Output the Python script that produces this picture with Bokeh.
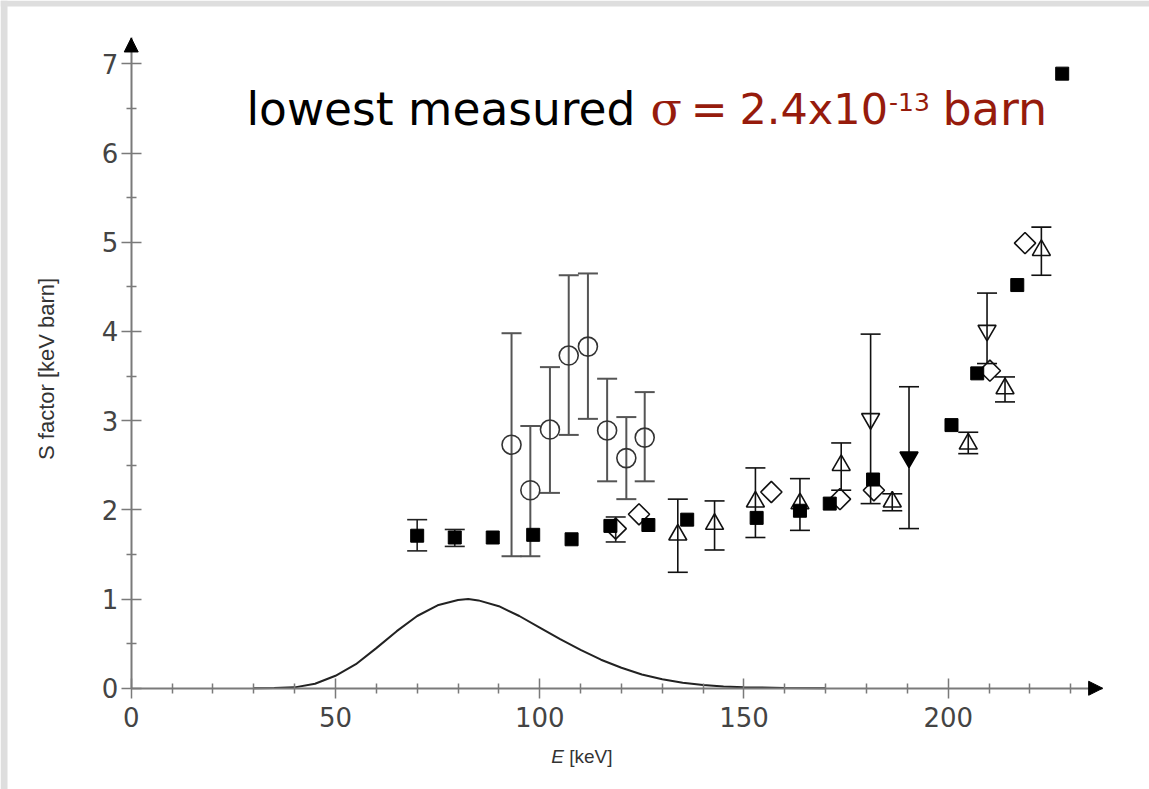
from bokeh.plotting import figure
from bokeh.models import (Range1d, FixedTicker, Whisker, TeeHead, ColumnDataSource,
                          Label, Arrow, NormalHead, BoxAnnotation)
from bokeh.embed import file_html
from bokeh.resources import INLINE

# ---- data ----
sq_e = [70.0, 79.2, 88.5, 98.4, 107.8, 117.3, 126.6, 136.1, 153.1, 163.7, 171.0, 181.6, 200.8, 207.1, 216.9, 227.9]
sq_s = [1.71, 1.69, 1.69, 1.72, 1.67, 1.82, 1.83, 1.89, 1.91, 1.99, 2.07, 2.34, 2.95, 3.53, 4.52, 6.89]
sq_err_e = [70.0, 79.2]
sq_err_lo = [1.54, 1.59]
sq_err_hi = [1.89, 1.78]

circ_e = [93.1, 97.7, 102.5, 107.1, 111.8, 116.5, 121.2, 125.7]
circ_s = [2.73, 2.22, 2.90, 3.73, 3.83, 2.89, 2.58, 2.81]
circ_lo = [1.48, 1.48, 2.19, 2.84, 3.02, 2.32, 2.12, 2.32]
circ_hi = [3.98, 2.94, 3.60, 4.63, 4.65, 3.47, 3.04, 3.32]

dia_e = [118.6, 124.3, 156.7, 173.5, 181.8, 210.2, 218.8]
dia_s = [1.79, 1.95, 2.20, 2.12, 2.22, 3.56, 4.99]
dia_err_e = [118.6]
dia_err_lo = [1.64]
dia_err_hi = [1.92]

tri_e = [133.8, 142.8, 152.8, 163.7, 173.8, 186.3, 204.9, 213.9, 222.8]
tri_s = [1.72, 1.84, 2.09, 2.07, 2.50, 2.09, 2.74, 3.36, 4.91]
tri_lo = [1.30, 1.55, 1.69, 1.77, 2.22, 1.99, 2.63, 3.21, 4.63]
tri_hi = [2.12, 2.10, 2.47, 2.35, 2.75, 2.18, 2.87, 3.49, 5.17]

inv_e = [181.0, 209.5]
inv_s = [3.02, 4.01]
inv_lo = [2.07, 3.64]
inv_hi = [3.97, 4.43]

invf_e = [190.4]
invf_s = [2.59]
invf_lo = [1.79]
invf_hi = [3.38]

gamow_e = [30, 35, 40, 45, 50, 55, 60, 65, 70, 75, 80, 82.5, 85, 90, 95, 100, 105, 110, 115, 120, 125, 130, 135, 140, 145, 150, 160, 170]
gamow_s = [0.0, 0.002, 0.01, 0.05, 0.14, 0.27, 0.45, 0.64, 0.81, 0.93, 0.99, 1.0, 0.985, 0.92, 0.81, 0.68, 0.55, 0.43, 0.32, 0.23, 0.155, 0.10, 0.062, 0.037, 0.021, 0.011, 0.003, 0.0]

x_ticks = [0, 50, 100, 150, 200]
x_minor = [10, 20, 30, 40, 60, 70, 80, 90, 110, 120, 130, 140, 160, 170, 180, 190, 210, 220, 230]
y_ticks = [0, 1, 2, 3, 4, 5, 6, 7]
y_minor = [0.5, 1.5, 2.5, 3.5, 4.5, 5.5, 6.5]

RED = "#961B0C"
AX = "#7a7a7a"
BORDER = "#dedede"

X0, X1 = -32.0, 249.27
Y0, Y1 = -1.135, 7.71

p = figure(frame_width=1149, frame_height=789,
           x_range=Range1d(X0, X1), y_range=Range1d(Y0, Y1),
           output_backend="svg", toolbar_location=None, min_border=0)
p.outline_line_color = None
p.grid.visible = False
p.background_fill_color = "white"
p.border_fill_color = "white"

for ax in (p.xaxis[0], p.yaxis[0]):
    ax.fixed_location = 0
    ax.axis_line_color = AX
    ax.axis_line_width = 2
    ax.major_tick_line_color = AX
    ax.minor_tick_line_color = AX
    ax.major_tick_line_width = 1.5
    ax.minor_tick_line_width = 1.5
    ax.major_tick_in = 10
    ax.major_tick_out = 10
    ax.minor_tick_in = 5
    ax.minor_tick_out = 5
    ax.major_label_text_font = "DejaVu Sans"
    ax.major_label_text_font_size = "26px"
    ax.major_label_text_color = "#444444"

p.xaxis.ticker = FixedTicker(ticks=x_ticks, minor_ticks=x_minor)
p.yaxis.ticker = FixedTicker(ticks=y_ticks, minor_ticks=y_minor)
p.xaxis.bounds = (0, 237.8)
p.yaxis.bounds = (0, 7.29)
p.xaxis.major_label_standoff = 9
p.yaxis.major_label_standoff = 3

# page border (light grey strips at left and top)
p.add_layout(BoxAnnotation(left=X0, right=X0 + 7 / 4.085, bottom=Y0, top=Y1,
                           fill_color=BORDER, fill_alpha=1, line_alpha=0))
p.add_layout(BoxAnnotation(left=X0, right=X1, bottom=Y1 - 6 / 89.2, top=Y1,
                           fill_color=BORDER, fill_alpha=1, line_alpha=0))

# axis arrows
p.add_layout(Arrow(end=NormalHead(size=14, fill_color="black", line_color="black"),
                   x_start=232, y_start=0, x_end=237.8, y_end=0, line_alpha=0))
p.add_layout(Arrow(end=NormalHead(size=14, fill_color="black", line_color="black"),
                   x_start=0, y_start=7.1, x_end=0, y_end=7.29, line_alpha=0))

# Gamow peak curve
p.line(gamow_e, gamow_s, line_color="#222222", line_width=2)

def whisk(xs, lo, hi, color, width):
    src = ColumnDataSource(dict(x=xs, lo=lo, hi=hi))
    w = Whisker(source=src, base="x", lower="lo", upper="hi", dimension="height",
                line_color=color, line_width=width,
                upper_head=TeeHead(size=20, line_color=color, line_width=width),
                lower_head=TeeHead(size=20, line_color=color, line_width=width))
    p.add_layout(w)

whisk(circ_e, circ_lo, circ_hi, "#555555", 2)
whisk(sq_err_e, sq_err_lo, sq_err_hi, "#222222", 1.6)
whisk(dia_err_e, dia_err_lo, dia_err_hi, "#222222", 1.6)
whisk(tri_e, tri_lo, tri_hi, "#111111", 1.6)
whisk(inv_e, inv_lo, inv_hi, "#111111", 1.6)
whisk(invf_e, invf_lo, invf_hi, "#111111", 1.6)

p.scatter(circ_e, circ_s, marker="circle", size=19, fill_color=None, line_color="#333333", line_width=1.6)
p.scatter(dia_e, dia_s, marker="square", angle=0.785398, size=15, fill_color=None, line_color="#111111", line_width=1.6)
p.scatter(tri_e, tri_s, marker="triangle", size=18, fill_color=None, line_color="#111111", line_width=1.6)
p.scatter(inv_e, inv_s, marker="inverted_triangle", size=18, fill_color=None, line_color="#111111", line_width=1.6)
p.scatter(invf_e, invf_s, marker="inverted_triangle", size=18, fill_color="black", line_color="black", line_width=1.6)
p.scatter(sq_e, sq_s, marker="square", size=13, fill_color="black", line_color="black")

# annotation text
def lab(x, y, t, color, size, font="DejaVu Sans", style="normal", align="left", angle=0):
    p.add_layout(Label(x=x, y=y, text=t, text_color=color, text_font=font,
                       text_font_size=size, text_font_style=style, angle=angle,
                       text_align=align, text_baseline="alphabetic"))

TY = 6.49
lab(28.2, TY, "lowest measured", "black", "45.5px")
lab(127.1, TY, "σ", RED, "46px", font="DejaVu Serif")
lab(137.0, TY, "=", RED, "44px")
lab(148.9, TY, "2.4x10", RED, "43px")
lab(185.5, 6.57, "-13", RED, "25px")
lab(198.6, TY, "barn", RED, "46px")

# axis titles
lab(102.8, -0.77, "E", "#333333", "19px", font="Liberation Sans", style="italic")
lab(107.2, -0.77, "[keV]", "#333333", "19px", font="Liberation Sans")
lab(-20.7, 3.58, "S factor [keV barn]", "#333333", "22px", font="Liberation Sans", align="center", angle=1.5708)

open("out.html", "w").write(file_html(p, INLINE))
